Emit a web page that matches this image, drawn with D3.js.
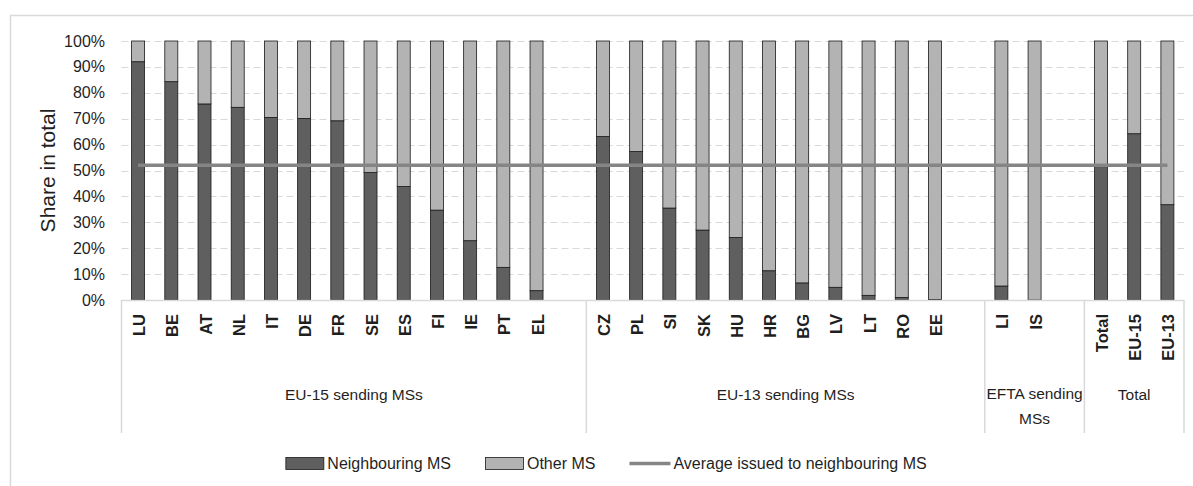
<!DOCTYPE html>
<html>
<head>
<meta charset="utf-8">
<script src="https://cdn.jsdelivr.net/npm/d3@7"></script>
<style>
  body { margin: 0; background: #fff; }
  svg { display: block; font-family: 'Liberation Sans', Arial, sans-serif; }
</style>
</head>
<body>
<div id="app"></div>
<script>
// categories per group and share issued to neighbouring MS (%)
const eu15 = ['LU', 'BE', 'AT', 'NL', 'IT', 'DE', 'FR', 'SE', 'ES', 'FI', 'IE', 'PT', 'EL']
const eu15Neighbouring = [92.0, 84.3, 75.7, 74.4, 70.5, 70.1, 69.2, 49.2, 43.8, 34.7, 22.9, 12.6, 3.6]
const eu13 = ['CZ', 'PL', 'SI', 'SK', 'HU', 'HR', 'BG', 'LV', 'LT', 'RO', 'EE']
const eu13Neighbouring = [63.1, 57.3, 35.5, 27.0, 24.1, 11.3, 6.6, 4.9, 1.8, 1.0, 0.2]
const efta = ['LI', 'IS']
const eftaNeighbouring = [5.4, 0]
const totals = ['Total', 'EU-15', 'EU-13']
const totalsNeighbouring = [51.5, 64.2, 36.8]
const groupNames = ['EU-15 sending MSs', 'EU-13 sending MSs', 'EFTA sending MSs', 'Total']
const averageNeighbouring = 52
const yTicks = [0, 10, 20, 30, 40, 50, 60, 70, 80, 90, 100]

const width = 1193
const height = 486
const plot = { left: 121.5, right: 1184, top: 41, bottom: 300 }
const colors = { neighbouring: '#5f5f5f', other: '#b3b3b3', average: '#858585', grid: '#d9d9d9', text: '#1f1f1f' }

const groups = [
  { name: groupNames[0], cats: eu15, vals: eu15Neighbouring },
  { name: groupNames[1], cats: eu13, vals: eu13Neighbouring },
  { name: groupNames[2], cats: efta, vals: eftaNeighbouring },
  { name: groupNames[3], cats: totals, vals: totalsNeighbouring }
]

// one slot per category, plus an empty slot closing every group but the last
const slots = []
const bars = []
groups.forEach((g, gi) => {
  g.cats.forEach((c, i) => {
    const id = gi + ':' + c
    slots.push(id)
    bars.push({ id, label: c, neighbouring: g.vals[i], other: 100 - g.vals[i] })
  })
  if (gi < groups.length - 1) slots.push(gi + ':gap')
  g.first = slots.indexOf(gi + ':' + g.cats[0])
  g.last = slots.length - 1
})

const x = d3.scaleBand().domain(slots).range([plot.left, plot.right])
const y = d3.scaleLinear().domain([0, 100]).range([plot.bottom, plot.top])
const barWidth = 13

const svg = d3.select('#app').append('svg')
  .attr('width', width)
  .attr('height', height)

// chart frame
svg.append('rect')
  .attr('x', 10.5).attr('y', 15.5)
  .attr('width', 1200).attr('height', 500)
  .attr('fill', 'none')
  .attr('stroke', colors.grid)
  .attr('stroke-width', 1.5)

// gridlines
svg.append('g')
  .selectAll('line')
  .data(yTicks.filter(d => d > 0))
  .join('line')
  .attr('x1', plot.left).attr('x2', plot.right)
  .attr('y1', d => Math.round(y(d)) + 0.5).attr('y2', d => Math.round(y(d)) + 0.5)
  .attr('stroke', colors.grid)
  .attr('stroke-width', 1.2)
  .attr('stroke-dasharray', '7,4')

// y tick labels
svg.append('g')
  .selectAll('text')
  .data(yTicks)
  .join('text')
  .attr('x', 105)
  .attr('y', d => y(d))
  .attr('text-anchor', 'end')
  .attr('dominant-baseline', 'central')
  .attr('font-size', 16)
  .attr('fill', colors.text)
  .text(d => d + '%')

// y title
svg.append('text')
  .attr('transform', `translate(47,${(plot.top + plot.bottom) / 2}) rotate(-90)`)
  .attr('text-anchor', 'middle')
  .attr('dominant-baseline', 'central')
  .attr('font-size', 21)
  .attr('fill', colors.text)
  .text('Share in total')

// stacked bars
const barG = svg.append('g')
barG.selectAll('rect.nb')
  .data(bars)
  .join('rect')
  .attr('class', 'nb')
  .attr('x', d => x(d.id) + (x.bandwidth() - barWidth) / 2)
  .attr('width', barWidth)
  .attr('y', d => y(d.neighbouring))
  .attr('height', d => y(0) - y(d.neighbouring))
  .attr('fill', colors.neighbouring)
  .attr('stroke', '#1a1a1a')
  .attr('stroke-width', 0.8)
barG.selectAll('rect.ot')
  .data(bars)
  .join('rect')
  .attr('class', 'ot')
  .attr('x', d => x(d.id) + (x.bandwidth() - barWidth) / 2)
  .attr('width', barWidth)
  .attr('y', d => y(100))
  .attr('height', d => y(d.neighbouring) - y(100))
  .attr('fill', colors.other)
  .attr('stroke', '#1a1a1a')
  .attr('stroke-width', 0.8)

// average line
svg.append('line')
  .attr('x1', x(slots[0]) + x.bandwidth() / 2)
  .attr('x2', x(slots[slots.length - 1]) + x.bandwidth() / 2)
  .attr('y1', y(averageNeighbouring)).attr('y2', y(averageNeighbouring))
  .attr('stroke', colors.average)
  .attr('stroke-width', 3.5)

// category axis
svg.append('line')
  .attr('x1', plot.left).attr('x2', plot.right)
  .attr('y1', plot.bottom + 0.5).attr('y2', plot.bottom + 0.5)
  .attr('stroke', colors.grid)
  .attr('stroke-width', 1.5)

const sepX = [plot.left].concat(groups.map(g => x(slots[g.last]) + x.bandwidth()))
svg.append('g')
  .selectAll('line')
  .data(sepX)
  .join('line')
  .attr('x1', d => d).attr('x2', d => d)
  .attr('y1', plot.bottom).attr('y2', 433)
  .attr('stroke', colors.grid)
  .attr('stroke-width', 1.5)

svg.append('g')
  .selectAll('text')
  .data(bars)
  .join('text')
  .attr('transform', d => `translate(${x(d.id) + x.bandwidth() / 2 + 1},314) rotate(-90)`)
  .attr('text-anchor', 'end')
  .attr('dominant-baseline', 'central')
  .attr('font-size', 16.5)
  .attr('font-weight', 'bold')
  .attr('fill', colors.text)
  .text(d => d.label)

// group labels, wrapped when wider than their span
svg.append('g')
  .selectAll('text')
  .data(groups)
  .join('text')
  .attr('text-anchor', 'middle')
  .attr('font-size', 15.5)
  .attr('fill', colors.text)
  .each(function (g) {
    const cx = (x(slots[g.first]) + x(slots[g.last]) + x.bandwidth()) / 2
    const span = x(slots[g.last]) + x.bandwidth() - x(slots[g.first])
    const el = d3.select(this)
    const t = el.append('tspan').attr('x', cx).attr('y', 394).attr('dominant-baseline', 'central').text(g.name)
    if (t.node().getComputedTextLength() > span - 2) {
      const words = g.name.split(' ')
      t.text(words.slice(0, -1).join(' ')).attr('y', 393)
      el.append('tspan').attr('x', cx).attr('y', 418).attr('dominant-baseline', 'central').text(words[words.length - 1])
    }
  })

// legend
const legendItems = [
  { label: 'Neighbouring MS', type: 'rect', color: colors.neighbouring },
  { label: 'Other MS', type: 'rect', color: colors.other },
  { label: 'Average issued to neighbouring MS', type: 'line', color: colors.average }
]
const legend = svg.append('g')
let lx = 0
legendItems.forEach((it, i) => {
  const g = legend.append('g').attr('transform', `translate(${lx},0)`)
  if (it.type === 'rect') {
    g.append('rect').attr('x', 0.5).attr('y', -5.5).attr('width', 38).attr('height', 12)
      .attr('fill', it.color).attr('stroke', '#1a1a1a').attr('stroke-width', 0.8)
  } else {
    g.append('line').attr('x1', 0).attr('x2', 41).attr('y1', 0.5).attr('y2', 0.5)
      .attr('stroke', it.color).attr('stroke-width', 3.5)
  }
  const sw = it.type === 'rect' ? 42 : 44
  const t = g.append('text').attr('x', sw).attr('y', 0.5)
    .attr('dominant-baseline', 'central')
    .attr('font-size', 16)
    .attr('fill', colors.text)
    .text(it.label)
  lx += sw + t.node().getComputedTextLength() + 34
})
const legendWidth = lx - 34
legend.attr('transform', `translate(${606 - legendWidth / 2},463)`)
</script>
</body>
</html>
